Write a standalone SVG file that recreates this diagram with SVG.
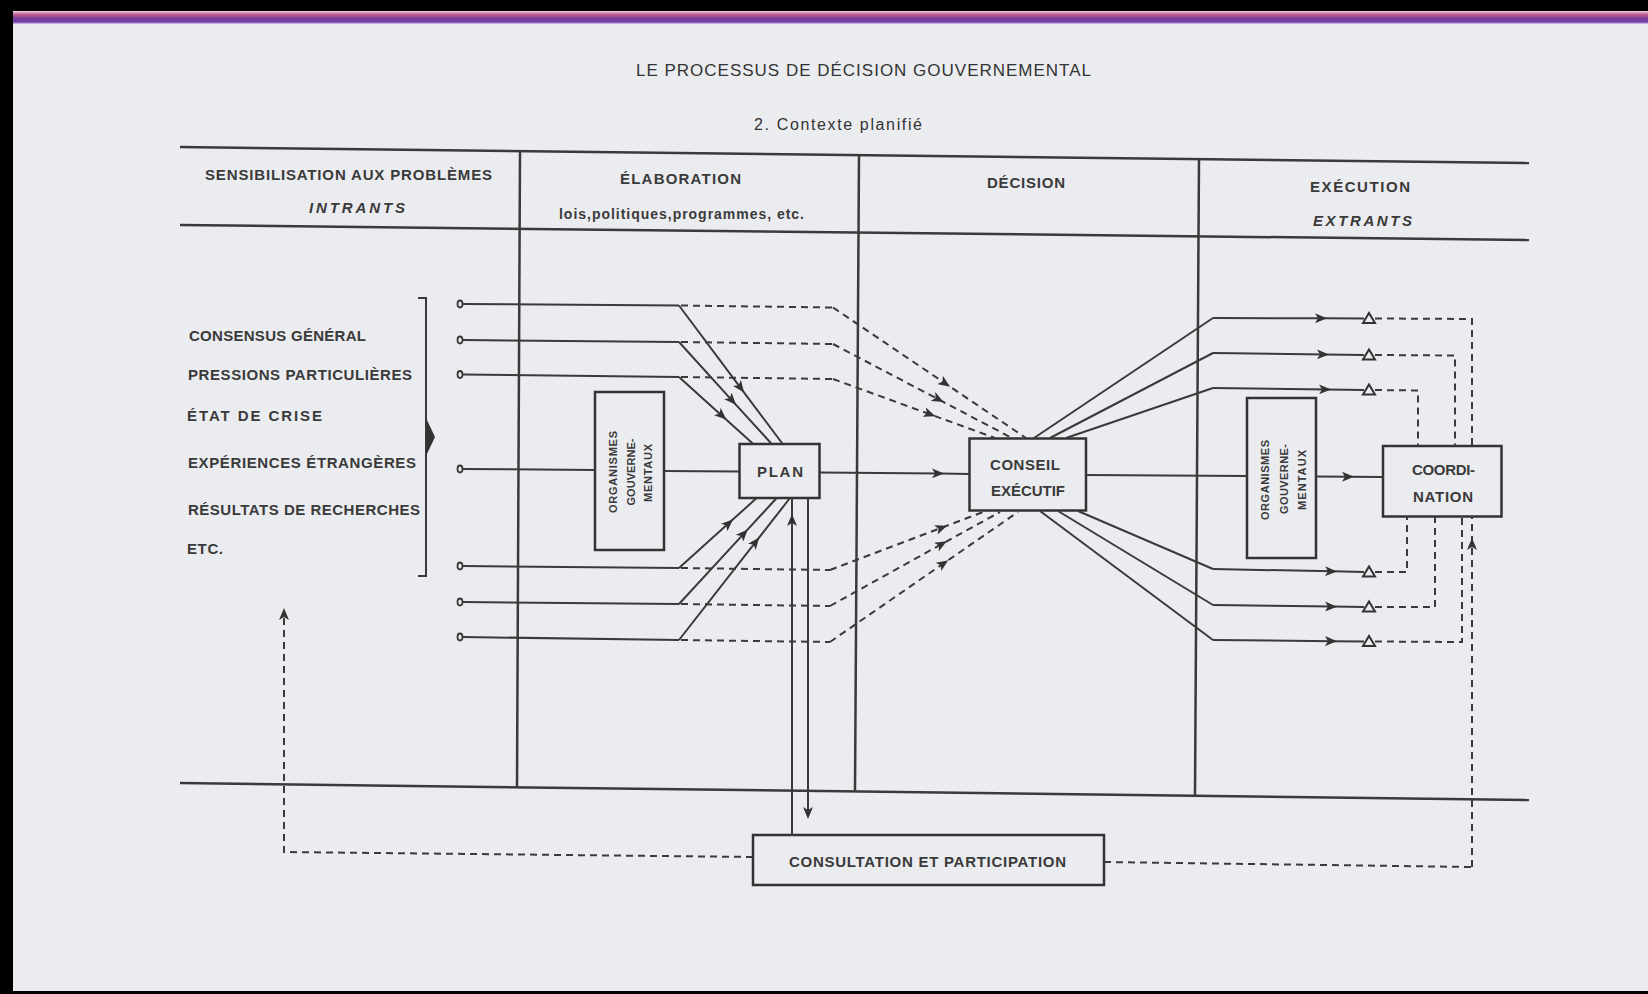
<svg xmlns="http://www.w3.org/2000/svg" width="1648" height="994" viewBox="0 0 1648 994">
<defs>
<style>
.ln{fill:none;stroke:#3a3a3a;stroke-width:2}
.ds{fill:none;stroke:#3a3a3a;stroke-width:2;stroke-dasharray:7 5}
.bx{fill:none;stroke:#333;stroke-width:2.5}
.tx{font-family:"Liberation Sans","DejaVu Sans",sans-serif;font-size:15px;font-weight:bold;fill:#3a3a3a}
.ti{font-family:"Liberation Sans","DejaVu Sans",sans-serif;font-size:17px;fill:#333}
.it{font-style:italic}
.vt{font-family:"Liberation Sans","DejaVu Sans",sans-serif;font-size:11px;font-weight:bold;fill:#3a3a3a}
.tri{fill:#ebecf0;stroke:#333;stroke-width:2}
</style>
<marker id="ar" viewBox="0 0 12 10" refX="8" refY="5" markerWidth="12" markerHeight="10" markerUnits="userSpaceOnUse" orient="auto">
<path d="M0,0 L12,5 L0,10 L3,5 z" fill="#333"/>
</marker>
<linearGradient id="band" x1="0" y1="0" x2="0" y2="1">
<stop offset="0" stop-color="#f3d6e6"/>
<stop offset="0.25" stop-color="#c2628e"/>
<stop offset="0.6" stop-color="#7a3a98"/>
<stop offset="0.85" stop-color="#6a44ae"/>
<stop offset="1" stop-color="#e6cde4"/>
</linearGradient>
</defs>

<rect x="0" y="0" width="1648" height="994" fill="#ebecf0"/>
<rect x="0" y="0" width="1648" height="11" fill="#000"/>
<rect x="0" y="11" width="1648" height="13" fill="url(#band)"/>
<rect x="0" y="0" width="13" height="994" fill="#000"/>
<rect x="0" y="991" width="1648" height="3" fill="#000"/>

<g id="titles">
<text class="ti" x="636" y="76" textLength="455" lengthAdjust="spacing">LE PROCESSUS DE DÉCISION GOUVERNEMENTAL</text>
<text class="ti" x="754" y="130" textLength="168" lengthAdjust="spacing" style="font-size:16px">2. Contexte planifié</text>
</g>

<g id="grid">
<line class="ln" x1="180" y1="147" x2="1529" y2="163" style="stroke-width:2.5"/>
<line class="ln" x1="180" y1="225" x2="1529" y2="240" style="stroke-width:2.5"/>
<line class="ln" x1="180" y1="783" x2="1529" y2="800" style="stroke-width:2.5"/>
<line class="ln" x1="520" y1="151" x2="517" y2="787" style="stroke-width:2.5"/>
<line class="ln" x1="859" y1="155" x2="855" y2="791" style="stroke-width:2.5"/>
<line class="ln" x1="1199" y1="159" x2="1195" y2="795" style="stroke-width:2.5"/>
</g>

<g id="headers">
<text class="tx" x="205" y="180" textLength="287" lengthAdjust="spacing">SENSIBILISATION AUX PROBLÈMES</text>
<text class="tx it" x="309" y="213" textLength="96" lengthAdjust="spacing">INTRANTS</text>
<text class="tx" x="620" y="184" textLength="121" lengthAdjust="spacing">ÉLABORATION</text>
<text class="tx" x="559" y="219" textLength="245" lengthAdjust="spacing" style="font-size:14px">lois,politiques,programmes, etc.</text>
<text class="tx" x="987" y="188" textLength="78" lengthAdjust="spacing">DÉCISION</text>
<text class="tx" x="1310" y="192" textLength="100" lengthAdjust="spacing">EXÉCUTION</text>
<text class="tx it" x="1313" y="226" textLength="99" lengthAdjust="spacing">EXTRANTS</text>
</g>

<g id="intrants">
<text class="tx" x="189" y="341" textLength="177" lengthAdjust="spacing">CONSENSUS GÉNÉRAL</text>
<text class="tx" x="188" y="380" textLength="224" lengthAdjust="spacing">PRESSIONS PARTICULIÈRES</text>
<text class="tx" x="187" y="421" textLength="135" lengthAdjust="spacing">ÉTAT DE CRISE</text>
<text class="tx" x="188" y="468" textLength="228" lengthAdjust="spacing">EXPÉRIENCES ÉTRANGÈRES</text>
<text class="tx" x="188" y="515" textLength="232" lengthAdjust="spacing">RÉSULTATS DE RECHERCHES</text>
<text class="tx" x="187" y="554" textLength="36" lengthAdjust="spacing">ETC.</text>
<path class="ln" d="M418,298 L426,298 L426,576 L418,576"/>
<path d="M426,418 L435,437 L426,456 z" fill="#333"/>
</g>

<g id="org1">
<rect class="bx" x="595" y="392" width="69" height="158"/>
<text class="vt" transform="translate(617,472) rotate(-90)" text-anchor="middle" textLength="82" lengthAdjust="spacing">ORGANISMES</text>
<text class="vt" transform="translate(634.5,472) rotate(-90)" text-anchor="middle" textLength="67" lengthAdjust="spacing">GOUVERNE-</text>
<text class="vt" transform="translate(652,473) rotate(-90)" text-anchor="middle" textLength="58" lengthAdjust="spacing">MENTAUX</text>
</g>

<g id="plan">
<rect class="bx" x="739.5" y="444" width="80" height="54"/>
<text class="tx" x="757" y="477" textLength="46" lengthAdjust="spacing">PLAN</text>
</g>

<g id="conseil">
<rect class="bx" x="969.5" y="438.5" width="116.5" height="72"/>
<text class="tx" x="990" y="469.5" textLength="70" lengthAdjust="spacing">CONSEIL</text>
<text class="tx" x="991" y="495.5" textLength="74" lengthAdjust="spacing">EXÉCUTIF</text>
</g>

<g id="org2">
<rect class="bx" x="1247" y="398" width="69" height="160"/>
<text class="vt" transform="translate(1269,480) rotate(-90)" text-anchor="middle" textLength="80" lengthAdjust="spacing">ORGANISMES</text>
<text class="vt" transform="translate(1287.5,479) rotate(-90)" text-anchor="middle" textLength="70" lengthAdjust="spacing">GOUVERNE-</text>
<text class="vt" transform="translate(1306,480) rotate(-90)" text-anchor="middle" textLength="60" lengthAdjust="spacing">MENTAUX</text>
</g>

<g id="coordination">
<rect class="bx" x="1383" y="446" width="118.5" height="70.5"/>
<text class="tx" x="1412" y="475" textLength="63" lengthAdjust="spacing">COORDI-</text>
<text class="tx" x="1413" y="501.5" textLength="60" lengthAdjust="spacing">NATION</text>
</g>

<g id="consultation">
<rect class="bx" x="753" y="835" width="351" height="50"/>
<text class="tx" x="789" y="867" textLength="277" lengthAdjust="spacing">CONSULTATION ET PARTICIPATION</text>
</g>

<g id="connectors">
<g fill="none" stroke="#3a3a3a" stroke-width="1.8">
<ellipse cx="460" cy="304" rx="2.5" ry="3.5"/>
<ellipse cx="460" cy="340" rx="2.5" ry="3.5"/>
<ellipse cx="460" cy="374.5" rx="2.5" ry="3.5"/>
<ellipse cx="460" cy="469" rx="2.5" ry="3.5"/>
<ellipse cx="460" cy="566" rx="2.5" ry="3.5"/>
<ellipse cx="460" cy="602" rx="2.5" ry="3.5"/>
<ellipse cx="460" cy="637" rx="2.5" ry="3.5"/>
</g>
<path class="ln" d="M463,304 L679,305.5"/>
<path class="ln" d="M463,340 L679,342"/>
<path class="ln" d="M463,374.5 L679,377"/>
<path class="ln" d="M463,469 L595,470"/>
<path class="ln" d="M463,566 L679,568"/>
<path class="ln" d="M463,602 L679,604"/>
<path class="ln" d="M463,637 L679,640"/>

<path class="ln" marker-mid="url(#ar)" d="M679,305.5 L741.7,389.3 L782.7,444"/>
<path class="ln" marker-mid="url(#ar)" d="M679,342 L733.3,401.8 L771.7,444"/>
<path class="ln" marker-mid="url(#ar)" d="M679,377 L723.3,416.9 L753.3,444"/>
<path class="ln" marker-mid="url(#ar)" d="M679,568 L730,522.1 L756.7,498"/>
<path class="ln" marker-mid="url(#ar)" d="M679,604 L745,532.4 L776.7,498"/>
<path class="ln" marker-mid="url(#ar)" d="M679,640 L756.7,540.6 L790,498"/>

<path class="ds" d="M681,305.5 L833,307.5"/>
<path class="ds" marker-mid="url(#ar)" d="M833,307.5 L946.7,384.4 L1026,438"/>
<path class="ds" d="M681,342 L833,344"/>
<path class="ds" marker-mid="url(#ar)" d="M833,344 L940,400.2 L1012,438"/>
<path class="ds" d="M681,377 L833,379"/>
<path class="ds" marker-mid="url(#ar)" d="M833,379 L931.7,414.9 L995,438"/>
<path class="ds" d="M681,568 L830,570"/>
<path class="ds" marker-mid="url(#ar)" d="M830,570 L943.3,527.1 L983,512"/>
<path class="ds" d="M681,604 L830,606"/>
<path class="ds" marker-mid="url(#ar)" d="M830,606 L943.3,543.2 L1000,512"/>
<path class="ds" d="M681,640 L830,642"/>
<path class="ds" marker-mid="url(#ar)" d="M830,642 L945,562.4 L1018,512"/>

<path class="ln" d="M664,471 L739.5,471.5"/>
<path class="ln" marker-mid="url(#ar)" d="M819.5,472.5 L940,473.5 L969.5,474"/>
<path class="ln" d="M1086,475 L1247,476"/>
<path class="ln" marker-mid="url(#ar)" d="M1316,476.5 L1350,476.8 L1383,477"/>

<path class="ln" marker-mid="url(#ar)" d="M792,835 L792,518 L792,498"/>
<path class="ln" marker-end="url(#ar)" d="M808,498 L808,815"/>

<path class="ln" d="M1034,438 L1213,318"/>
<path class="ln" marker-mid="url(#ar)" d="M1213,318 L1323,318.3 L1364,318.5"/>
<path class="ln" d="M1050,438 L1213,353"/>
<path class="ln" marker-mid="url(#ar)" d="M1213,353 L1325,354.5 L1364,355"/>
<path class="ln" d="M1066,438 L1213,388"/>
<path class="ln" marker-mid="url(#ar)" d="M1213,388 L1327,389.5 L1364,390"/>
<path class="ln" d="M1078,511 L1213,569"/>
<path class="ln" marker-mid="url(#ar)" d="M1213,569 L1333,571.3 L1364,572"/>
<path class="ln" d="M1058,511 L1213,605"/>
<path class="ln" marker-mid="url(#ar)" d="M1213,605 L1333,606.6 L1364,607"/>
<path class="ln" d="M1040,511 L1213,640"/>
<path class="ln" marker-mid="url(#ar)" d="M1213,640 L1333,641.2 L1364,641.5"/>

<polygon class="tri" points="1363,323 1375,323 1369,313"/>
<polygon class="tri" points="1363,359.5 1375,359.5 1369,349.5"/>
<polygon class="tri" points="1363,394.5 1375,394.5 1369,384.5"/>
<polygon class="tri" points="1363,576.5 1375,576.5 1369,566.5"/>
<polygon class="tri" points="1363,611.5 1375,611.5 1369,601.5"/>
<polygon class="tri" points="1363,646 1375,646 1369,636"/>

<path class="ds" d="M1375,318.5 L1472,319 L1472,446"/>
<path class="ds" d="M1375,355 L1455,355.5 L1455,446"/>
<path class="ds" d="M1375,390 L1418,390.5 L1418,446"/>
<path class="ds" d="M1375,572 L1407,572 L1407,516.5"/>
<path class="ds" d="M1375,607 L1435,607 L1435,516.5"/>
<path class="ds" d="M1375,641.5 L1462,642 L1462,516.5"/>

<path class="ds" d="M1104,862 L1472,867"/>
<path class="ds" marker-mid="url(#ar)" d="M1472,867 L1472,542 L1472,516.5"/>
<path class="ds" marker-end="url(#ar)" d="M753,857 L284,852 L284,612"/>
</g>
</svg>
